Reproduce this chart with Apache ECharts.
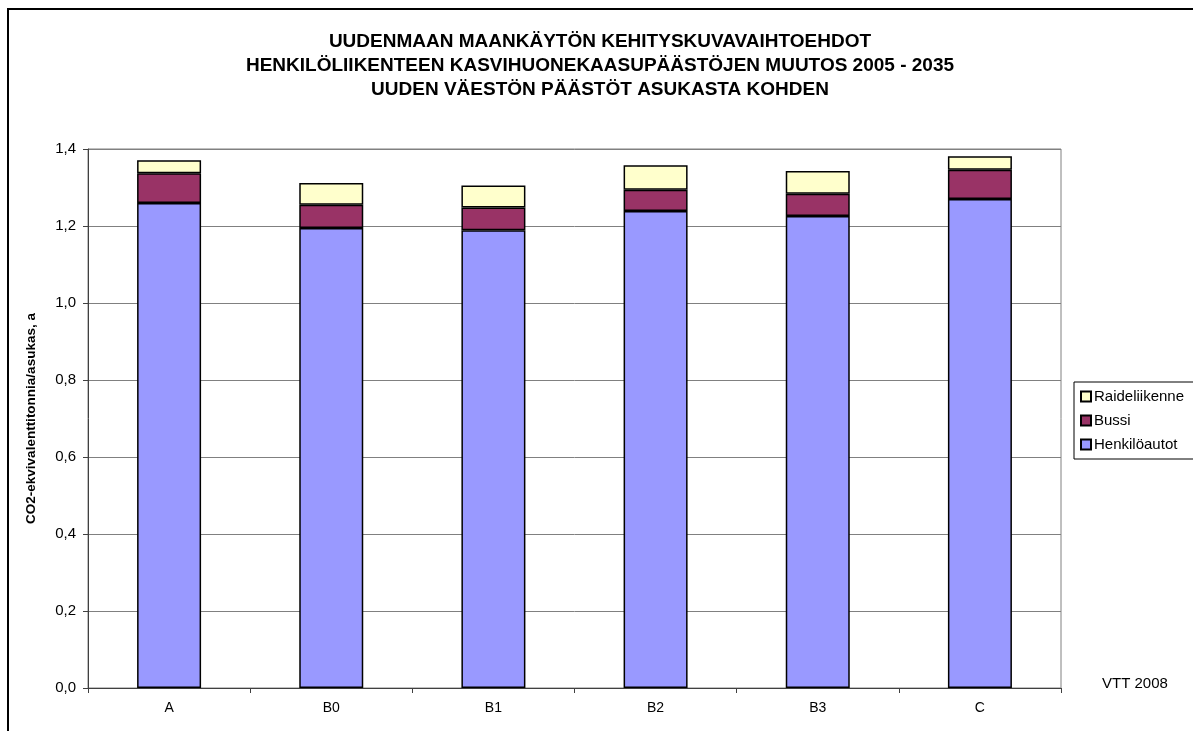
<!DOCTYPE html>
<html>
<head>
<meta charset="utf-8">
<script src="https://cdn.jsdelivr.net/npm/echarts@6/dist/echarts.min.js"></script>
<style>
    html, body { margin: 0; padding: 0; background: #fff; }
    #chart { width: 1193px; height: 731px; }
</style>
</head>
<body>
<div id="chart"></div>
<script>
var categories = ['A', 'B0', 'B1', 'B2', 'B3', 'C'];
var henkiloautot = [1.260, 1.195, 1.189, 1.239, 1.226, 1.270];
var bussi = [0.077, 0.060, 0.059, 0.055, 0.058, 0.076];
var raideliikenne = [0.034, 0.057, 0.057, 0.064, 0.059, 0.035];
var titleLines = [
    'UUDENMAAN MAANKÄYTÖN KEHITYSKUVAVAIHTOEHDOT',
    'HENKILÖLIIKENTEEN KASVIHUONEKAASUPÄÄSTÖJEN MUUTOS 2005 - 2035',
    'UUDEN VÄESTÖN PÄÄSTÖT ASUKASTA KOHDEN'
];

var font = 'Arial, "Liberation Sans", sans-serif';
var myChart = echarts.init(document.getElementById('chart'));

function bar(name, data, color) {
    return {
        name: name,
        type: 'bar',
        stack: 'total',
        barWidth: 64,
        data: data,
        itemStyle: { color: color, borderColor: '#000', borderWidth: 1.5 }
    };
}

var option = {
    animation: false,
    backgroundColor: '#fff',
    textStyle: { fontFamily: font },
    title: {
        text: titleLines.join('\n'),
        left: 600,
        textAlign: 'center',
        top: 30,
        padding: 0,
        textStyle: { fontSize: 19, fontWeight: 'bold', color: '#000', lineHeight: 24, fontFamily: font }
    },
    legend: {
        orient: 'vertical',
        left: 1074,
        top: 382,
        padding: [7, 20, 7, 6],
        itemWidth: 10,
        itemHeight: 10,
        itemGap: 9,
        borderColor: '#000',
        borderWidth: 1,
        icon: 'rect',
        data: ['Raideliikenne', 'Bussi', 'Henkilöautot'],
        textStyle: { fontSize: 15, color: '#000', padding: [0, 0, 0, -2] }
    },
    grid: {
        left: 88,
        right: 132,
        top: 149,
        bottom: 43,
        show: true,
        borderColor: '#808080',
        borderWidth: 1
    },
    xAxis: {
        type: 'category',
        data: categories,
        axisLine: { lineStyle: { color: '#404040', width: 1 } },
        axisTick: { show: true, length: 5, lineStyle: { color: '#404040' } },
        axisLabel: { fontSize: 14, color: '#000', margin: 13 }
    },
    yAxis: {
        type: 'value',
        min: 0,
        max: 1.4,
        interval: 0.2,
        name: 'CO2-ekvivalenttitonnia/asukas, a',
        nameLocation: 'middle',
        nameGap: 50,
        nameTextStyle: { fontSize: 13.5, fontWeight: 'bold', color: '#000' },
        axisLine: { show: true, lineStyle: { color: '#404040', width: 1 } },
        axisTick: { show: true, length: 5, lineStyle: { color: '#404040' } },
        axisLabel: {
            fontSize: 15,
            color: '#000',
            margin: 12,
            formatter: function (v) { return v.toFixed(1).replace('.', ','); }
        },
        splitLine: { lineStyle: { color: '#808080', width: 1 } }
    },
    graphic: [
        {
            type: 'rect',
            shape: { x: 8, y: 9, width: 1200, height: 800 },
            style: { fill: 'none', stroke: '#000', lineWidth: 2 },
            silent: true
        },
        {
            type: 'text',
            left: 1102,
            top: 676,
            style: { text: 'VTT 2008', fontSize: 15, fill: '#000', fontFamily: font }
        }
    ],
    series: [
        bar('Henkilöautot', henkiloautot, '#9999FF'),
        bar('Bussi', bussi, '#993366'),
        bar('Raideliikenne', raideliikenne, '#FFFFCC')
    ]
};

myChart.setOption(option, true);
</script>
</body>
</html>
